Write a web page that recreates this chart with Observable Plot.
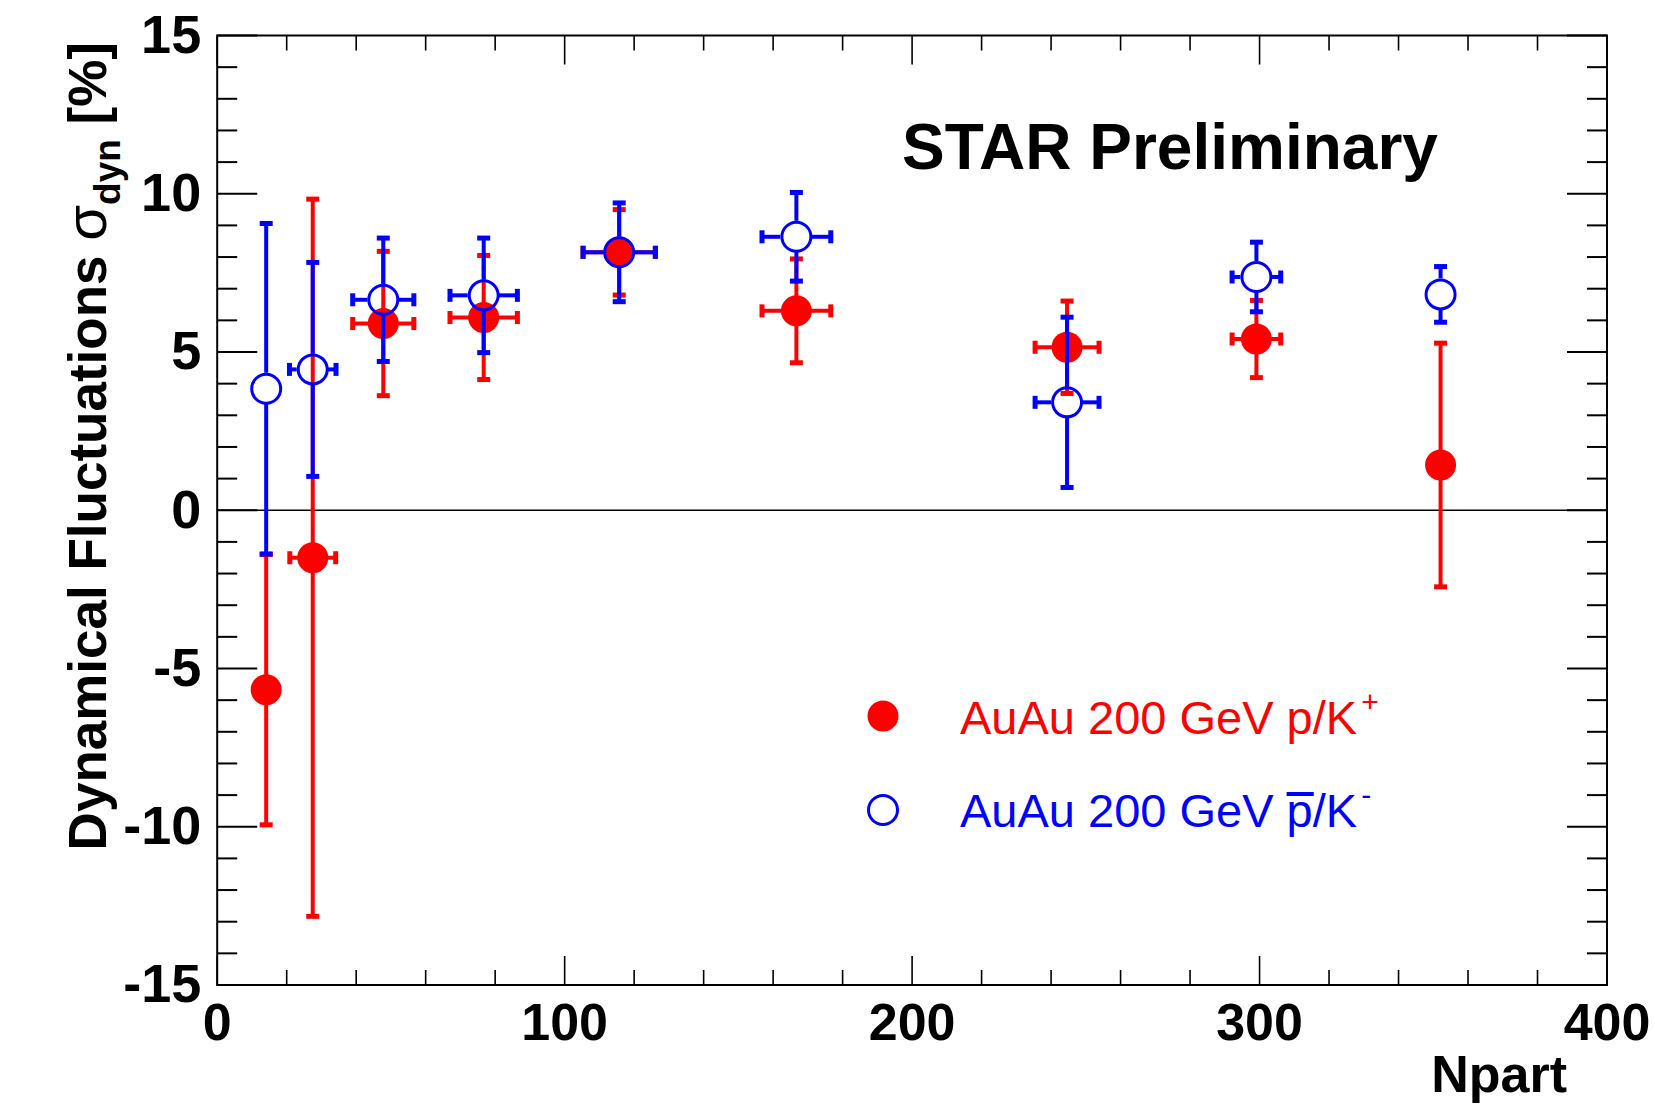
<!DOCTYPE html>
<html><head><meta charset="utf-8">
<script src="https://cdn.jsdelivr.net/npm/d3@7"></script>
<script src="https://cdn.jsdelivr.net/npm/@observablehq/plot@0.6"></script>
<style>body{margin:0;background:#fff}</style>
</head><body><div id="chart"></div>
<script>
// ---- data ----
const npart        = [14.1, 27.5, 47.8, 76.7, 115.7, 166.7, 244.6, 299.1, 352.1];
const npartErrRed  = [0, 6.6, 8.8, 9.7, 10.4, 9.9, 9.2, 7.0, 0];
const npartErrBlue = [0, 6.7, 8.8, 9.7, 10.4, 9.9, 9.2, 7.0, 0];
const sigmaRed     = [-5.67, -1.50, 5.90, 6.09, 8.15, 6.30, 5.15, 5.41, 1.43];
const sigmaRedErr  = [4.27, 11.33, 2.28, 1.96, 1.35, 1.64, 1.46, 1.22, 3.85];
const sigmaBlue    = [3.84, 4.45, 6.65, 6.79, 8.15, 8.64, 3.41, 7.37, 6.82];
const sigmaBlueErr = [5.22, 3.38, 1.95, 1.81, 1.56, 1.40, 2.69, 1.10, 0.88];

const yMajorTicks = [-15, -10, -5, 0, 5, 10, 15];
const yTickLabels = ["-15", "-10", "-5", "0", "5", "10", "15"];
const yMinorTicks = d3.range(-15, 16).filter(v => v % 5 !== 0);
const xMajorTicks = [0, 100, 200, 300, 400];
const xTickLabels = ["0", "100", "200", "300", "400"];
const xMinorTicks = d3.range(0, 401, 20).filter(v => v % 100 !== 0);

const seriesNames = ["AuAu 200 GeV p/K", "AuAu 200 GeV p/K"];

// ---- styling ----
const FONT = "'Liberation Sans', Arial, Helvetica, sans-serif";
const RED = "#ff0000", BLUE = "#0000ff";

const lineSym = (dx, dy) => ({draw(ctx, size) { const w = Math.sqrt(size / Math.PI); ctx.moveTo(0, 0); ctx.lineTo(dx * w, dy * w); }});
const hCap = {draw(ctx, size) { const w = Math.sqrt(size / Math.PI); ctx.moveTo(-w, 0); ctx.lineTo(w, 0); }};
const vCap = {draw(ctx, size) { const w = Math.sqrt(size / Math.PI); ctx.moveTo(0, -w); ctx.lineTo(0, w); }};

const mk = (ys, ey, ex) => npart.map((x, i) => ({x, y: ys[i], ey: ey[i], ex: ex[i]}));
const red = mk(sigmaRed, sigmaRedErr, npartErrRed);
const blue = mk(sigmaBlue, sigmaBlueErr, npartErrBlue);

function errorMarks(data, color, gap) {
  const hx = data.filter(d => d.ex > 0);
  const s = {stroke: color, strokeWidth: 4};
  const c = {stroke: color, strokeWidth: 5, fill: "none", r: 6.5};
  return [
    Plot.ruleX(data, {x: "x", y1: d => d.y + d.ey, y2: "y", insetBottom: gap, ...s}),
    Plot.ruleX(data, {x: "x", y1: "y", y2: d => d.y - d.ey, insetTop: gap, ...s}),
    Plot.ruleY(hx, {y: "y", x1: "x", x2: d => d.x + d.ex, insetLeft: gap, ...s}),
    Plot.ruleY(hx, {y: "y", x1: d => d.x - d.ex, x2: "x", insetRight: gap, ...s}),
    Plot.dot(data, {x: "x", y: d => d.y + d.ey, symbol: hCap, ...c}),
    Plot.dot(data, {x: "x", y: d => d.y - d.ey, symbol: hCap, ...c}),
    Plot.dot(hx, {x: d => d.x + d.ex, y: "y", symbol: vCap, ...c}),
    Plot.dot(hx, {x: d => d.x - d.ex, y: "y", symbol: vCap, ...c})
  ];
}

const tk = {stroke: "black", strokeWidth: 2, fill: "none"};
const tkx = {stroke: "black", strokeWidth: 1.6, fill: "none"};

const plot = Plot.plot({
  width: 1655, height: 1104,
  marginLeft: 216.7, marginRight: 48.5, marginTop: 35, marginBottom: 119.5,
  style: {fontFamily: FONT, background: "white", color: "black"},
  x: {domain: [0, 400]},
  y: {domain: [-15, 15]},
  marks: [
    Plot.ruleY([0], {stroke: "black", strokeWidth: 1.6}),
    ...errorMarks(red, RED, 0),
    Plot.dot(red, {x: "x", y: "y", r: 15.5, fill: RED, stroke: "none"}),
    ...errorMarks(blue, BLUE, 15.5),
    Plot.dot(blue, {x: "x", y: "y", r: 14.5, stroke: BLUE, strokeWidth: 3, fill: "none"}),
    // ticks (inward, ROOT style)
    Plot.dot(yMinorTicks, {x: () => 0, y: d => d, symbol: lineSym(1, 0), r: 20, ...tk}),
    Plot.dot(yMajorTicks, {x: () => 0, y: d => d, symbol: lineSym(1, 0), r: 40, ...tk}),
    Plot.dot(yMinorTicks, {x: () => 400, y: d => d, symbol: lineSym(-1, 0), r: 20, ...tk}),
    Plot.dot(yMajorTicks, {x: () => 400, y: d => d, symbol: lineSym(-1, 0), r: 40, ...tk}),
    Plot.dot(xMinorTicks, {x: d => d, y: () => -15, symbol: lineSym(0, -1), r: 15, ...tkx}),
    Plot.dot(xMajorTicks, {x: d => d, y: () => -15, symbol: lineSym(0, -1), r: 29, ...tkx}),
    Plot.dot(xMinorTicks, {x: d => d, y: () => 15, symbol: lineSym(0, 1), r: 15, ...tkx}),
    Plot.dot(xMajorTicks, {x: d => d, y: () => 15, symbol: lineSym(0, 1), r: 29, ...tkx}),
    Plot.frame({stroke: "black", strokeWidth: 2}),
    Plot.axisY(yMajorTicks, {tickSize: 0, tickPadding: 16, fontSize: 54, fontWeight: "bold", label: null,
      tickFormat: d => yTickLabels[yMajorTicks.indexOf(d)]}),
    Plot.axisX(xMajorTicks, {tickSize: 0, tickPadding: 18, fontSize: 52, fontWeight: "bold", label: null,
      tickFormat: d => xTickLabels[xMajorTicks.indexOf(d)]})
  ]
});
document.getElementById("chart").appendChild(plot);

// ---- annotations ----
const svg = d3.select(plot);

svg.append("text").attr("x", 902).attr("y", 169).attr("text-anchor", "start")
  .style("font-family", FONT).style("font-weight", "bold").style("font-size", "64px").attr("fill", "black")
  .text("STAR Preliminary");

svg.append("text").attr("x", 1567).attr("y", 1092).attr("text-anchor", "end")
  .style("font-family", FONT).style("font-weight", "bold").style("font-size", "52px").attr("fill", "black")
  .text("Npart");

const yl = svg.append("text").attr("transform", "translate(106,42) rotate(-90)").attr("text-anchor", "end")
  .style("font-family", FONT).style("font-weight", "bold").style("font-size", "53px").attr("fill", "black");
yl.append("tspan").text("Dynamical Fluctuations ");
yl.append("tspan").text("σ").style("font-weight", "normal").style("font-size", "58px");
yl.append("tspan").text("dyn").style("font-size", "37px").attr("dy", 14);
yl.append("tspan").text(" [%]").attr("dy", -14);

// legend
svg.append("circle").attr("cx", 883).attr("cy", 716).attr("r", 15.5).attr("fill", RED);
svg.append("circle").attr("cx", 883).attr("cy", 810).attr("r", 14.5).attr("fill", "none").attr("stroke", BLUE).attr("stroke-width", 3);

const lt1 = svg.append("text").attr("x", 960).attr("y", 733.5).attr("text-anchor", "start")
  .style("font-family", FONT).style("font-size", "47px").attr("fill", RED);
lt1.append("tspan").text(seriesNames[0]);
lt1.append("tspan").text("+").style("font-size", "30px").attr("dy", -22).attr("dx", 4);

const lt2 = svg.append("text").attr("x", 960).attr("y", 827).attr("text-anchor", "start")
  .style("font-family", FONT).style("font-size", "47px").attr("fill", BLUE);
lt2.append("tspan").text(seriesNames[1]);
lt2.append("tspan").text("-").style("font-size", "30px").attr("dy", -22).attr("dx", 4);

// overline on the p of the antiproton label
try {
  const node = lt2.node();
  const idx = seriesNames[1].indexOf("p/");
  const ext = node.getExtentOfChar(idx);
  svg.append("rect").attr("x", ext.x).attr("y", 827 - 35).attr("width", ext.width + 1).attr("height", 4).attr("fill", BLUE);
} catch (e) {}
</script>
</body></html>
